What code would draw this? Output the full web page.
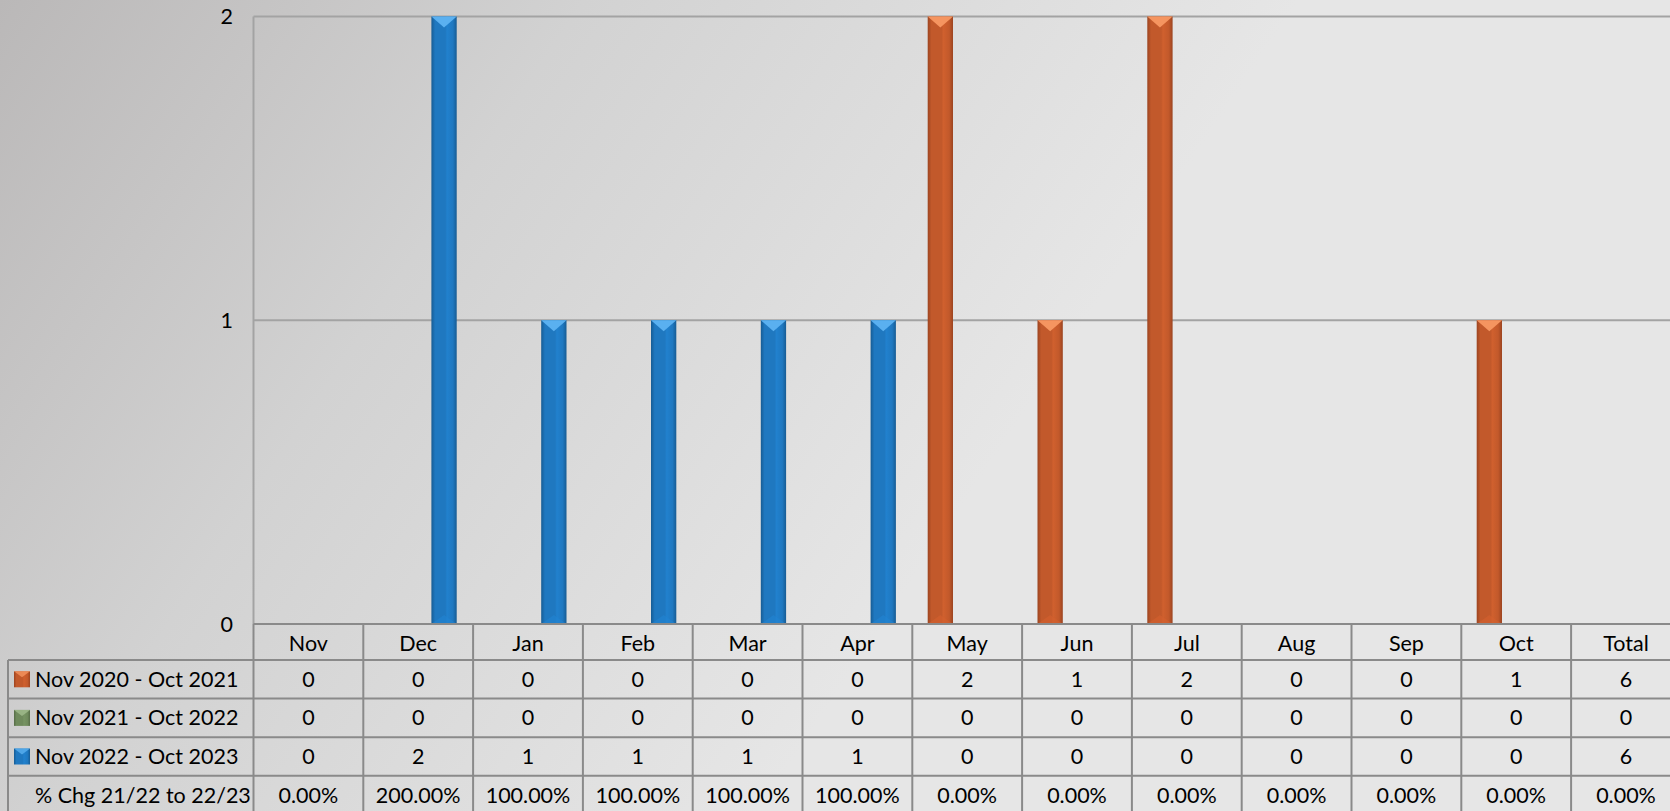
<!DOCTYPE html>
<html>
<head>
<meta charset="utf-8">
<script src="https://cdn.jsdelivr.net/npm/d3@7"></script>
<style>
  body { margin: 0; overflow: hidden; }
  text { font-family: Lato, "Open Sans", sans-serif; fill: #000; }
</style>
</head>
<body>
<div id="chart"></div>
<script>
const months = ["Nov", "Dec", "Jan", "Feb", "Mar", "Apr", "May", "Jun", "Jul", "Aug", "Sep", "Oct"];
const columns = [...months, "Total"];
const seriesNames = ["Nov 2020 - Oct 2021", "Nov 2021 - Oct 2022", "Nov 2022 - Oct 2023"];
const series1 = [0, 0, 0, 0, 0, 0, 2, 1, 2, 0, 0, 1, 6];
const series2 = [0, 0, 0, 0, 0, 0, 0, 0, 0, 0, 0, 0, 0];
const series3 = [0, 2, 1, 1, 1, 1, 0, 0, 0, 0, 0, 0, 6];
const pctLabel = "% Chg 21/22 to 22/23";
const pctChange = ["0.00%", "200.00%", "100.00%", "100.00%", "100.00%", "100.00%", "0.00%", "0.00%", "0.00%", "0.00%", "0.00%", "0.00%", "0.00%"];
const yTicks = [0, 1, 2];

const width = 1670;
const height = 811;
const margin = { top: 16.5, left: 253.5, bottom: 624 };
const colW = 109.8;
const rowH = 38.6;
const headerH = 36;
const fontSize = "21.5px";

// base, dark edge, light top facet
const colors = [
  { main: "#c2592b", dark: "#9c4420", light: "#f59560" },
  { main: "#6f8a5c", dark: "#566c47", light: "#a3bd8f" },
  { main: "#1f78c0", dark: "#175c94", light: "#5ab0f0" },
];

const allSeries = [series1, series2, series3];

const svg = d3
  .select("#chart")
  .append("svg")
  .attr("width", width)
  .attr("height", height);

const defs = svg.append("defs");

const bg = defs
  .append("linearGradient")
  .attr("id", "bg")
  .attr("gradientUnits", "userSpaceOnUse")
  .attr("x1", 0)
  .attr("y1", 0)
  .attr("x2", 900)
  .attr("y2", 600);
bg.append("stop").attr("offset", 0).attr("stop-color", "#bab8b8");
bg.append("stop").attr("offset", 0.45).attr("stop-color", "#d2d2d2");
bg.append("stop").attr("offset", 1).attr("stop-color", "#e6e6e6");

colors.forEach((c, i) => {
  const g = defs
    .append("linearGradient")
    .attr("id", `bar${i}`)
    .attr("x1", 0)
    .attr("x2", 1)
    .attr("y1", 0)
    .attr("y2", 0);
  g.append("stop").attr("offset", 0).attr("stop-color", c.dark);
  g.append("stop").attr("offset", 0.15).attr("stop-color", c.main);
  g.append("stop").attr("offset", 0.55).attr("stop-color", c.main);
  g.append("stop").attr("offset", 0.62).attr("stop-color", d3.color(c.main).brighter(0.2));
  g.append("stop").attr("offset", 0.85).attr("stop-color", c.main);
  g.append("stop").attr("offset", 1).attr("stop-color", c.dark);
});

svg.append("rect").attr("width", width).attr("height", height).attr("fill", "url(#bg)");

const xScale = d3
  .scaleBand()
  .domain(columns)
  .range([margin.left, margin.left + colW * columns.length])
  .paddingInner(0);

const seriesScale = d3
  .scaleBand()
  .domain([0, 1, 2])
  .range([-39.5, 38.5])
  .paddingInner(0.04);

const yScale = d3
  .scaleLinear()
  .domain([0, 2])
  .range([margin.bottom, margin.top]);

// gridlines
svg
  .append("g")
  .selectAll("line")
  .data(yTicks.filter((d) => d > 0))
  .join("line")
  .attr("x1", margin.left)
  .attr("x2", width)
  .attr("y1", (d) => yScale(d))
  .attr("y2", (d) => yScale(d))
  .attr("stroke", "#a3a3a3")
  .attr("stroke-width", 2);

svg
  .append("line")
  .attr("x1", margin.left)
  .attr("x2", margin.left)
  .attr("y1", yScale(2))
  .attr("y2", yScale(0))
  .attr("stroke", "#a3a3a3")
  .attr("stroke-width", 2);

svg
  .append("g")
  .selectAll("text")
  .data(yTicks)
  .join("text")
  .attr("x", 233)
  .attr("y", (d) => yScale(d))
  .attr("dy", "0.35em")
  .attr("text-anchor", "end")
  .style("font-size", fontSize)
  .text((d) => d);

// bars
const barData = [];
allSeries.forEach((s, si) => {
  months.forEach((m, mi) => {
    if (s[mi] > 0) barData.push({ month: m, si, value: s[mi] });
  });
});

const barGroup = svg
  .append("g")
  .selectAll("g")
  .data(barData)
  .join("g")
  .attr("transform", (d) => `translate(${xScale(d.month) + xScale.bandwidth() / 2 + seriesScale(d.si)}, 0)`);

const bw = seriesScale.bandwidth();

barGroup
  .append("rect")
  .attr("x", 0)
  .attr("y", (d) => yScale(d.value))
  .attr("width", bw)
  .attr("height", (d) => yScale(0) - yScale(d.value))
  .attr("fill", (d) => `url(#bar${d.si})`);

barGroup
  .append("path")
  .attr("d", (d) => {
    const y0 = yScale(d.value);
    return `M0,${y0} L${bw},${y0} L${bw / 2},${y0 + 11} Z`;
  })
  .attr("fill", (d) => colors[d.si].light);

barGroup
  .append("path")
  .attr("d", (d) => {
    const y0 = yScale(0);
    return `M0,${y0} L${bw},${y0} L${bw / 2},${y0 - 9} Z`;
  })
  .attr("fill", (d) => d3.color(colors[d.si].main).brighter(0.25))
  .attr("opacity", 0.6);

// data table
const table = svg.append("g");
const tableTop = yScale(0);
const rowsTop = tableTop + headerH;
const rows = [
  { label: seriesNames[0], values: series1, key: 0 },
  { label: seriesNames[1], values: series2, key: 1 },
  { label: seriesNames[2], values: series3, key: 2 },
  { label: pctLabel, values: pctChange, key: null },
];
const tableRight = xScale.range()[1];
const gridColor = "#8a8a8a";

table
  .selectAll(".header")
  .data(columns)
  .join("text")
  .attr("class", "header")
  .attr("x", (d) => xScale(d) + xScale.bandwidth() / 2)
  .attr("y", tableTop + headerH / 2 + 1)
  .attr("dy", "0.35em")
  .attr("text-anchor", "middle")
  .style("font-size", fontSize)
  .text((d) => d);

rows.forEach((r, ri) => {
  const yMid = rowsTop + rowH * ri + rowH / 2;
  if (r.key !== null) {
    table
      .append("rect")
      .attr("x", 14)
      .attr("y", yMid - 8)
      .attr("width", 16)
      .attr("height", 16)
      .attr("fill", `url(#bar${r.key})`);
    table
      .append("path")
      .attr("d", `M14,${yMid - 8} L30,${yMid - 8} L22,${yMid - 2} Z`)
      .attr("fill", colors[r.key].light)
      .attr("opacity", 0.8);
  }
  table
    .append("text")
    .attr("x", 35)
    .attr("y", yMid)
    .attr("dy", "0.35em")
    .style("font-size", fontSize)
    .text(r.label);
  table
    .append("g")
    .selectAll("text")
    .data(r.values)
    .join("text")
    .attr("x", (d, i) => xScale(columns[i]) + xScale.bandwidth() / 2)
    .attr("y", yMid)
    .attr("dy", "0.35em")
    .attr("text-anchor", "middle")
    .style("font-size", fontSize)
    .text((d) => d);
});

// table lines
const hLines = [tableTop, ...rows.map((r, i) => rowsTop + rowH * i)];
table
  .selectAll(".hline")
  .data(hLines)
  .join("line")
  .attr("class", "hline")
  .attr("x1", (d, i) => (i < 1 ? margin.left : 8))
  .attr("x2", tableRight)
  .attr("y1", (d) => d)
  .attr("y2", (d) => d)
  .attr("stroke", gridColor)
  .attr("stroke-width", 2);

table
  .selectAll(".vline")
  .data(columns.map((c) => xScale(c)))
  .join("line")
  .attr("class", "vline")
  .attr("x1", (d) => d)
  .attr("x2", (d) => d)
  .attr("y1", tableTop)
  .attr("y2", height)
  .attr("stroke", gridColor)
  .attr("stroke-width", 2);

table
  .append("line")
  .attr("x1", 8)
  .attr("x2", 8)
  .attr("y1", rowsTop)
  .attr("y2", height)
  .attr("stroke", gridColor)
  .attr("stroke-width", 2);
</script>
</body>
</html>
